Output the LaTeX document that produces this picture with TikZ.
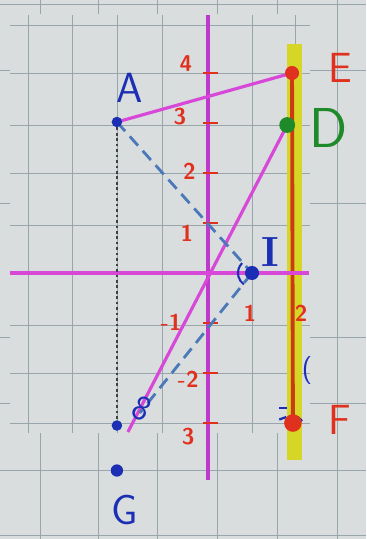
\documentclass[tikz,border=0pt]{standalone}
\usepackage{xcolor}
\usepackage{tikz}
\usetikzlibrary{positioning}

\definecolor{paper}{HTML}{D9DDDD}
\definecolor{gridc}{HTML}{98A6AC}
\definecolor{magline}{HTML}{D848D8}
\definecolor{magaxis}{HTML}{BE38CC}
\definecolor{penred}{HTML}{E0301E}
\definecolor{linered}{HTML}{CC3A14}
\definecolor{penblue}{HTML}{1C2FB4}
\definecolor{dashblue}{HTML}{4A78B8}
\definecolor{pengreen}{HTML}{1E8A2A}
\definecolor{hilite}{HTML}{D6D626}

\begin{document}
\begin{tikzpicture}[
  x=0.88cm, y=1cm,
  axis/.style={
    draw=magaxis,
    line width=2.3pt
  },
  seg/.style={
    draw=magline,
    line width=1.8pt
  },
  dashseg/.style={
    draw=dashblue,
    dash pattern=on 7pt off 4pt,
    line width=1.6pt
  },
  ptdot/.style={
    circle,
    fill=#1,
    inner sep=0pt,
    minimum size=6pt
  },
  ptlbl/.style={
    font=\sffamily\fontsize{24}{24}\selectfont,
    inner sep=1pt
  },
  ticklbl/.style={
    text=penred,
    font=\sffamily\bfseries\fontsize{13}{13}\selectfont,
    inner sep=1pt
  }
]

% Paper and grid
\useasboundingbox (-4.16cm,-5.32cm) rectangle (3.16cm,5.46cm);
\fill[paper] (-4.16cm,-5.32cm) rectangle (3.16cm,5.46cm);
\begin{scope}[x=0.02cm, y=-0.02cm, shift={(-4.16cm,5.46cm)}, draw=gridc, line width=0.5pt]
  \foreach \gx in {28,72,117,162,252,295} \draw (\gx,15) -- (\gx,433);
  \foreach \gy in {25,73,125,173,225,325,373,423} \draw (10,\gy) -- (310,\gy);
  \draw (0,4) -- (366,4);
  \foreach \gx in {40,98,157,217,277} {
    \draw (\gx,0) -- (\gx,14);
    \draw (\gx,433) -- (\gx,539);
  }
  \draw (337,0) -- (337,539);
  \foreach \gy in {70,203,337,403} {
    \draw (0,\gy) -- (10,\gy);
    \draw (310,\gy) -- (366,\gy);
  }
  \draw (0,470) -- (366,470);
  \draw (0,535) -- (366,535);
\end{scope}

% Points
\coordinate (A) at (-2.07,3.02);
\coordinate (E) at (1.91,4);
\coordinate (D) at (1.80,2.96);
\coordinate (F) at (1.93,-3);
\coordinate (I) at (1,0);
\coordinate (G) at (-2.07,-3.95);
\coordinate (Gup) at (-2.07,-3.05);
\coordinate (Dlow) at (-1.82,-3.18);
\coordinate (Bend) at (-1.55,-2.8);
\coordinate (yTop) at (0,5.16);
\coordinate (yBot) at (0,-4.14);
\coordinate (xL) at (-4.5,0);
\coordinate (xR) at (2.3,0);
\coordinate (hlTop) at (1.80,4.58);
\coordinate (hlBot) at (2.14,-3.74);

% Highlighted line E--F
\fill[hilite] (hlTop) rectangle (hlBot);
\draw[draw=linered, line width=2.2pt] (E) -- (F);

% Axes
\draw[axis] (yTop) -- (yBot);
\draw[axis, draw=magline] (xL) -- (xR);
\foreach \ty in {4,3,2,1,-1,-2,-3}
  \draw[draw=penred, line width=1.2pt] (-0.12,\ty) -- (0.22,\ty);

% Axis numbers
\node[ticklbl] (t4) at (-0.5,4.18) {4};
\node[ticklbl] (t3) at (-0.64,3.12) {3};
\node[ticklbl] (t2) at (-0.42,2.04) {2};
\node[ticklbl] (t1) at (-0.48,0.8) {1};
\node[ticklbl] (tm1) at (-0.84,-0.98) {-1};
\node[ticklbl] (tm2) at (-0.45,-2.12) {-2};
\node[ticklbl] (tm3) at (-0.45,-3.28) {3};
\node[ticklbl] (x1) at (0.95,-0.8) {1};
\node[ticklbl] (x2) at (2.12,-0.8) {2};

% Segments
\draw[seg] (A) -- (E);
\draw[seg] (D) -- (Dlow);
\draw[dashseg] (A) -- (I);
\draw[dashseg] (I) -- (Bend);
\draw[draw=black!75, line width=1.5pt, dash pattern=on 1.5pt off 1.6pt] (A) -- (Gup);

% Angle mark and pen marks
\draw[draw=penblue, line width=1.2pt]
  ([shift={(135:0.28cm)}]I) arc[start angle=135, end angle=235, radius=0.28cm];
\node[text=penblue, font=\sffamily\fontsize{20}{20}\selectfont, rotate=-25] (mark8) at (-1.5,-2.72) {8};
\node[text=penblue, font=\sffamily\fontsize{16}{16}\selectfont] (paren) at (2.25,-1.94) {(};
\draw[draw=penblue, line width=1.3pt] (1.62,-2.7) -- (1.80,-2.7);
\draw[draw=penblue, line width=1.3pt] (1.62,-2.93) -- (1.78,-2.88);
\draw[draw=penblue, line width=1.3pt] (2.04,-2.88) -- (2.14,-2.96);

% Dots
\node[ptdot=penblue] (dA) at (A) {};
\node[ptdot=penred, minimum size=8pt] (dE) at (E) {};
\node[ptdot=pengreen, minimum size=9pt] (dD) at (D) {};
\node[ptdot=penblue, minimum size=8pt] (dI) at (I) {};
\node[ptdot=penred, minimum size=10pt] (dF) at (F) {};
\node[ptdot=penblue] (dGup) at (Gup) {};
\node[ptdot=penblue, minimum size=7pt] (dG) at (G) {};

% Point names
\node[ptlbl, text=penblue] (lA) at (-1.77,3.7) {A};
\node[ptlbl, text=penred] (lE) at (3.0,4.1) {E};
\node[ptlbl, text=pengreen, font=\sffamily\fontsize{32}{32}\selectfont] (lD) at (2.75,2.9) {D};
\node[ptlbl, text=penblue, font=\rmfamily\bfseries\fontsize{24}{24}\selectfont] (lI) at (1.42,0.42) {I};
\node[ptlbl, text=penred] (lF) at (3.0,-2.94) {F};
\node[ptlbl, text=penblue] (lG) at (-1.89,-4.74) {G};

\end{tikzpicture}
\end{document}
